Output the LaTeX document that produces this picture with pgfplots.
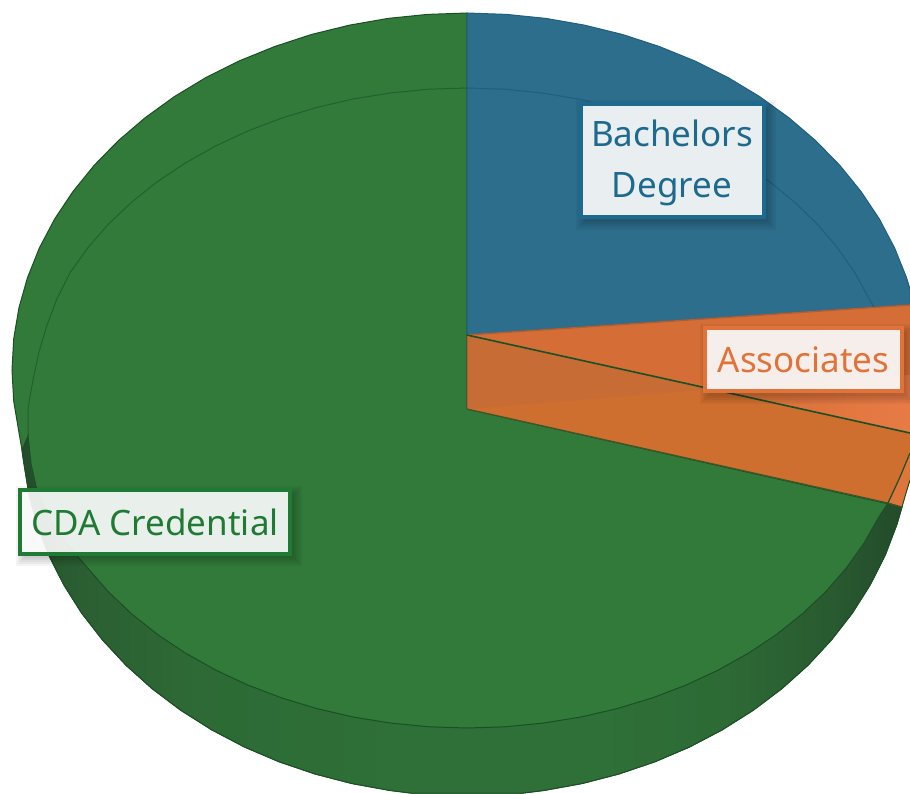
\documentclass[border=0pt]{standalone}
\usepackage{fontspec}
\setmainfont{Noto Sans}
\usepackage{pgfplots}
\pgfplotsset{compat=1.18}
\definecolor{TopGreen}{HTML}{317A3A}
\definecolor{LineGreen}{HTML}{1B4F25}
\definecolor{TopBlue}{HTML}{2C6E8C}
\definecolor{LineBlue}{HTML}{1F5F80}
\definecolor{TopOrange}{HTML}{D46E36}
\definecolor{LowOrange}{HTML}{CE6E2F}
\definecolor{WallOrange}{HTML}{C86C35}
\definecolor{HiOrange}{HTML}{E87B45}
\definecolor{TextBlue}{HTML}{1E6A8E}
\definecolor{TextOrange}{HTML}{E0733A}
\definecolor{TextGreen}{HTML}{1F7A33}
\definecolor{W0}{HTML}{234B2A}
\definecolor{W1}{HTML}{295A30}
\definecolor{W2}{HTML}{2C6033}
\definecolor{W3}{HTML}{2D6A35}
\definecolor{W4}{HTML}{2E7037}
\pgfdeclarehorizontalshading{wall}{100bp}{
  color(0bp)=(W0); color(25bp)=(W0); color(27bp)=(W1); color(29bp)=(W2); color(35bp)=(W3);
  color(46bp)=(W4); color(58bp)=(W4); color(65bp)=(W3); color(71bp)=(W1); color(75bp)=(W0); color(100bp)=(W0)}
\tikzset{
  softshadow/.style={fill=black,draw=none,inner sep=0pt,outer sep=0pt,opacity=.045},
  lab/.style={draw=#1,fill=white,fill opacity=.9,text opacity=1,draw opacity=1,line width=2pt,
    inner sep=0pt,outer sep=0pt,align=center,text=#1,font=\fontsize{17.5}{25.5}\selectfont}}
\begin{document}
\begin{tikzpicture}
\begin{axis}[
  at={(0,0)},anchor=south west,
  width=455pt,height=396.5pt,scale only axis,
  xmin=0,xmax=910,ymin=0,ymax=793,y dir=reverse,
  hide axis]
% green body, top rim then lower rim
\addplot[fill=TopGreen,draw=LineGreen,line width=.5pt] coordinates {
  (467,13)(427.3,14.4)(388,18.4)(349.2,25.2)(311.4,34.5)(274.7,46.5)(239.5,60.8)(206,77.5)
  (174.5,96.5)(145.3,117.6)(118.5,140.5)(94.3,165.2)(73,191.5)(54.6,219.1)(39.4,247.9)
  (27.5,277.6)(18.9,308)(13.7,338.9)(12,370)(13.7,401.1)(18.9,432)(22,450)
  (23.7,461.9)(28.8,493.5)(37.2,524.7)(48.8,555.2)(63.7,584.7)(81.6,613)(102.5,639.9)
  (126.1,665.3)(152.3,688.8)(181,710.4)(211.7,729.8)(244.5,747)(278.9,761.7)(314.8,773.9)
  (351.8,783.5)(389.7,790.4)(410.4,793)(523.6,793)(544.3,790.4)(582.2,783.5)(619.2,773.9)
  (655.1,761.7)(689.5,747)(722.3,729.8)(753,710.4)(781.7,688.8)(807.9,665.3)(831.5,639.9)
  (852.4,613)(870.3,584.7)(885.2,555.2)(896.8,524.7)(902,507)(467,409)
} -- cycle;
% shaded side wall
\addplot[shading=wall,draw=LineGreen,line width=.5pt] coordinates {
  (22,450)(23.7,461.9)(28.8,493.5)(37.2,524.7)(48.8,555.2)(63.7,584.7)(81.6,613)(102.5,639.9)
  (126.1,665.3)(152.3,688.8)(181,710.4)(211.7,729.8)(244.5,747)(278.9,761.7)(314.8,773.9)
  (351.8,783.5)(389.7,790.4)(410.4,793)(523.6,793)(544.3,790.4)(582.2,783.5)(619.2,773.9)
  (655.1,761.7)(689.5,747)(722.3,729.8)(753,710.4)(781.7,688.8)(807.9,665.3)(831.5,639.9)
  (852.4,613)(870.3,584.7)(885.2,555.2)(896.8,524.7)(902,507)
  (888,503)(878.6,517.4)(864,543.2)(846.3,568)(825.8,591.6)(802.5,613.7)(776.7,634.3)
  (748.5,653.1)(718.2,670.1)(686,685.1)(652.1,698)(616.8,708.7)(580.4,717.1)(543,723.1)
  (505.2,726.8)(467,728)(428.8,726.8)(391,723.1)(353.6,717.1)(317.2,708.7)(281.9,698)
  (248,685.1)(215.8,670.1)(185.5,653.1)(157.3,634.3)(131.5,613.7)(108.2,591.6)(87.7,568)
  (66,543.2)(49,517.4)(37,490.8)(31,463.6)(28,436)
} -- cycle;
% blue slice
\addplot[fill=TopBlue,draw=LineBlue,line width=.5pt] coordinates {
  (467,13)(506.7,14.4)(546,18.4)(584.8,25.2)(622.6,34.5)(659.3,46.5)(694.5,60.8)(728,77.5)
  (759.5,96.5)(788.7,117.6)(815.5,140.5)(839.7,165.2)(861,191.5)(879.4,219.1)(894.6,247.9)
  (906.5,277.6)(910,289)(910,305)(467,335)
} -- cycle;
% orange slice: top, wall and the bright end
\addplot[fill=LowOrange,draw=none] coordinates {
  (467,335)(467,409)(888,503)(902,507)(906,493)(910,480)(910,433)
} -- cycle;
\addplot[fill=WallOrange,draw=none] coordinates {(467,335)(467,409)(712,389)} -- cycle;
\addplot[fill=TopOrange,draw=none] coordinates {(467,335)(910,305)(910,433)} -- cycle;
\addplot[left color=TopOrange,right color=HiOrange,draw=none] coordinates {(712,389)(910,375)(910,433)} -- cycle;
\addplot[fill=HiOrange!60!LowOrange,draw=none] coordinates {
  (888,503)(900,477)(910,453)(910,480)(906,493)(902,507)} -- cycle;
\addplot[draw=TopOrange!85!black,line width=.7pt] coordinates {(467,335)(910,305)};
\addplot[draw=TopOrange!85!black,line width=.5pt] coordinates {(467,335)(467,409)};
\addplot[draw=LineGreen,line width=.8pt] coordinates {(467,335)(910,433)};
\addplot[draw=LineGreen!80!TopOrange,line width=.6pt] coordinates {(467,409)(888,503)(902,507)};
\addplot[draw=LineGreen,line width=.6pt] coordinates {(888,503)(900,477)(910,453)};
\addplot[draw=LineGreen,line width=.5pt] coordinates {(902,507)(906,493)(910,480)};
% inner rim lines
\addplot[draw=LineBlue,line width=.5pt] coordinates {
  (467,88)(504.3,89.2)(541.3,92.9)(577.8,98.9)(613.4,107.3)(647.9,118)(681,130.9)(712.5,145.9)
  (742,162.9)(769.6,181.7)(794.8,202.3)(817.6,224.4)(837.6,248)(854.9,272.8)(869,298.6)(874,307)};
\addplot[draw=LineGreen,draw opacity=.6,line width=.5pt] coordinates {
  (467,88)(428.8,89.2)(391,92.9)(353.6,98.9)(317.2,107.3)(281.9,118)(248,130.9)(215.8,145.9)
  (185.5,162.9)(157.3,181.7)(131.5,202.3)(108.2,224.4)(87.7,248)(70,272.8)(57,298.6)(47,325)
  (39,352)(33,380)(28,408)(28,436)};
% labels
\foreach \g in {0,2,4,6,8} {
  \edef\temp{\noexpand\node[softshadow,minimum width=\the\dimexpr 92pt+\g pt\relax,minimum height=\the\dimexpr 57pt+\g pt\relax] at (axis cs:676,165) {};
  \noexpand\node[softshadow,minimum width=\the\dimexpr 99pt+\g pt\relax,minimum height=\the\dimexpr 32pt+\g pt\relax] at (axis cs:807,364) {};
  \noexpand\node[softshadow,minimum width=\the\dimexpr 135pt+\g pt\relax,minimum height=\the\dimexpr 32pt+\g pt\relax] at (axis cs:159,526) {};}
  \temp
}
\node[lab=TextBlue,minimum width=91.5pt,minimum height=56.5pt] at (axis cs:672.5,160.5) {};
\node[text=TextBlue,align=center,inner sep=0pt,font=\fontsize{17.5}{25.5}\selectfont] at (axis cs:672,163) {Bachelors\\Degree};
\node[lab=TextOrange,minimum width=98.5pt,minimum height=31.5pt] at (axis cs:803.5,359.5) {Associates};
\node[lab=TextGreen,minimum width=135pt,minimum height=32pt] at (axis cs:155,522) {CDA Credential};
\end{axis}
\pgfresetboundingbox
\path (0,0) rectangle (455pt,396.5pt);
\end{tikzpicture}
\end{document}
